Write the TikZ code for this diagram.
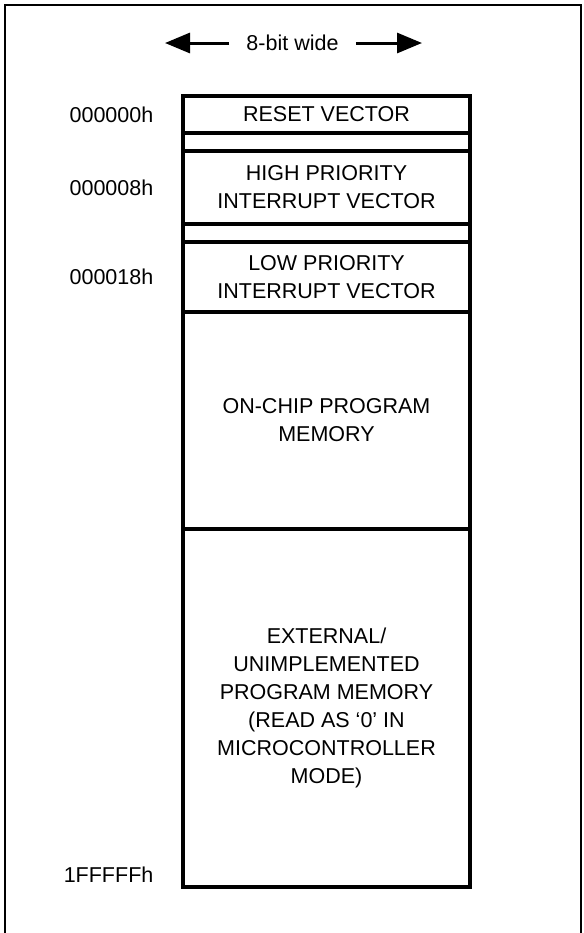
\documentclass[tikz,border=0pt]{standalone}
\usepackage{fontspec}
\setmainfont{Liberation Sans}
\usetikzlibrary{arrows.meta}

\begin{document}
\begin{tikzpicture}
        [x=0.5pt,y=-0.5pt,every node/.style={font=\fontsize{10.75}{14}\selectfont}]
        \clip (0,0) rectangle (584,933);
        \tikzset{MemStyle/.style = {draw,
                                  shape          = rectangle,
                                  line width     = 1.6pt,
                                  minimum width  = 143.5pt,
                                  inner sep      = 0pt,
                                  align          = center}}
        \draw[line width=1.4pt] (5,945) -- (5,5) -- (581,5) -- (581,945);
        \node (Wide) [inner xsep=8.5pt] at (292.5,43) {8-bit wide};
        \coordinate (WideLeft) at (165,43);
        \coordinate (WideRight) at (422,43);
        \foreach \tip in {WideLeft,WideRight}
            \draw[-{Triangle[length=12.5pt,width=10pt]}, line width=1.5pt] (Wide) -- (\tip);
        \node[MemStyle, minimum height=18.5pt] (Reset) at (326.5,114.5) {RESET VECTOR};
        \node[MemStyle, minimum height=9pt] (GapHigh) at (326.5,142) {};
        \node[MemStyle, minimum height=36.5pt] (High) at (326.5,187.5) {HIGH PRIORITY\\INTERRUPT VECTOR};
        \node[MemStyle, minimum height=9pt] (GapLow) at (326.5,233) {};
        \node[MemStyle, minimum height=35pt] (Low) at (326.5,277) {LOW PRIORITY\\INTERRUPT VECTOR};
        \node[MemStyle, minimum height=108.5pt] (OnChip) at (326.5,420.5) {ON-CHIP PROGRAM\\MEMORY};
        \node[MemStyle, minimum height=179pt] (External) at (326.5,708)
            {EXTERNAL/\\UNIMPLEMENTED\\PROGRAM MEMORY\\(READ AS ‘0’ IN\\MICROCONTROLLER\\MODE)};
        \foreach \blk/\addr in {Reset/000000h, High/000008h, Low/000018h}
            \node[anchor=east] (Addr\blk) at ([xshift=-10.5pt]\blk.west) {\addr};
        \node[anchor=east] (AddrEnd) at ([xshift=-10.5pt,yshift=7pt]External.south west) {1FFFFFh};
    \end{tikzpicture}
\end{document}
